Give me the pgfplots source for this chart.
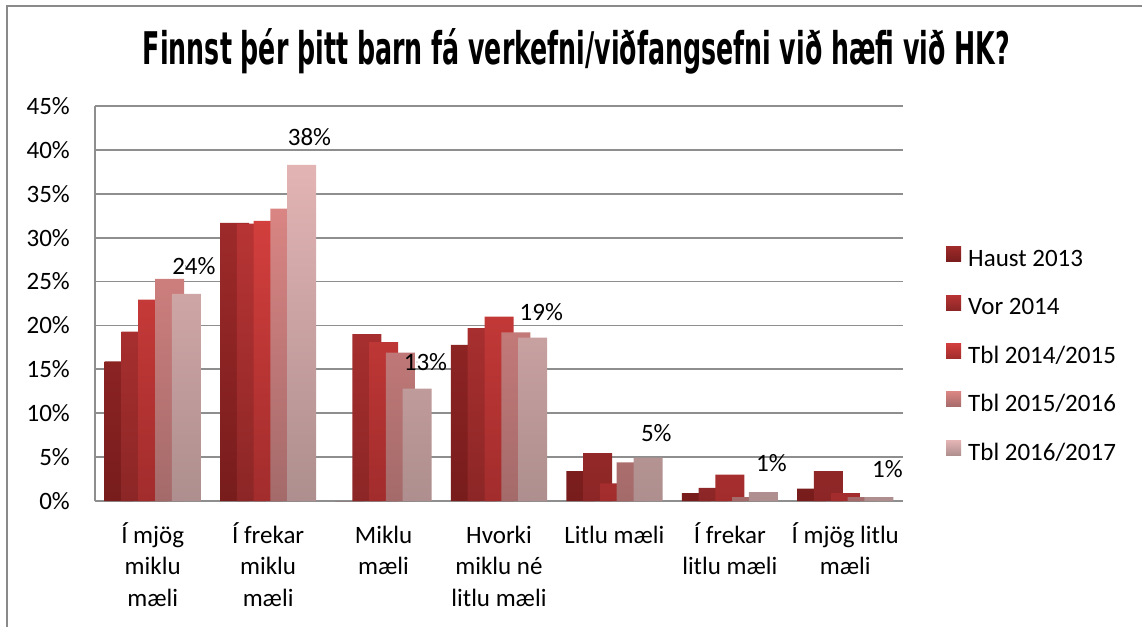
\documentclass[border=0pt]{standalone}
\usepackage{fontspec}
\usepackage{graphicx}
\usepackage{pgfplots}
\pgfplotsset{compat=1.18}
\setmainfont{Carlito}
\newfontfamily\titlefont{DejaVu Sans Condensed}
\definecolor{gridgray}{HTML}{8E8E8E}
\definecolor{framegray}{HTML}{8A8A8A}
\definecolor{sAt}{HTML}{9E2A2A}\definecolor{sAb}{HTML}{781C1C}
\definecolor{sBt}{HTML}{B83434}\definecolor{sBb}{HTML}{8C2626}
\definecolor{sCt}{HTML}{D23F3D}\definecolor{sCb}{HTML}{A22C2C}
\definecolor{sDt}{HTML}{D98583}\definecolor{sDb}{HTML}{A46A6A}
\definecolor{sEt}{HTML}{E3B4B4}\definecolor{sEb}{HTML}{AE8E8E}
\newcommand{\chartfont}{\fontsize{25}{31.5}\selectfont}
\begin{document}
\begin{tikzpicture}[x=1pt,y=1pt]
\path[use as bounding box] (0,0) rectangle (1142,-627);
\draw[framegray, line width=1.5pt] (7,-627) -- (7,-6) -- (1142,-6);
\node[anchor=base, inner sep=0pt] at (576.5,-64) {\resizebox{867pt}{\height}{\fontsize{45}{50}\titlefont\bfseries Finnst þér þitt barn fá verkefni/viðfangsefni við hæfi við HK?}};
\begin{axis}[
  at={(95pt,-501pt)}, anchor=south west,
  scale only axis, width=808pt, height=395pt,
  xmin=-0.5, xmax=6.5, ymin=0, ymax=45,
  ybar=-12.2pt, bar width=29pt,
  axis x line*=bottom, axis y line*=left,
  axis line style={-, draw=gridgray, line width=2pt},
  ymajorgrids, grid style={draw=gridgray, line width=1.8pt},
  major tick length=0pt,
  ytick={0,5,10,15,20,25,30,35,40,45},
  yticklabels={0\%,5\%,10\%,15\%,20\%,25\%,30\%,35\%,40\%,45\%},
  xtick={0,1,2,3,4,5,6},
  xticklabels={{\strut Í mjög\\miklu\\mæli},{\strut Í frekar\\miklu\\mæli},{\strut Miklu\\mæli},{\strut Hvorki\\miklu né\\litlu mæli},{\strut Litlu mæli},{\strut Í frekar\\litlu mæli},{\strut Í mjög litlu\\mæli}},
  tick label style={font=\chartfont},
  yticklabel style={anchor=east, inner sep=0pt, xshift=-25pt},
  xticklabel style={anchor=north, inner sep=0pt, align=center, yshift=-20pt},
  legend style={at={(1.0532,0.3684)}, anchor=west, draw=none, fill=none,
    inner sep=0pt, row sep=25.25pt, font=\chartfont,
    /tikz/every odd column/.append style={column sep=5pt}},
  legend cell align=left,
  legend image code/.code={\path[#1,draw=none] (0pt,-3pt) rectangle (15pt,12pt);},
]
\addplot[draw=none, top color=sAt, bottom color=sAb] coordinates {(0,15.9) (1,31.7) (2,0) (3,17.8) (4,3.4) (5,0.9) (6,1.4)};
\addplot[draw=none, top color=sBt, bottom color=sBb] coordinates {(0,19.3) (1,31.6) (2,19.0) (3,19.7) (4,5.45) (5,1.5) (6,3.4)};
\addplot[draw=none, top color=sCt, bottom color=sCb] coordinates {(0,22.95) (1,31.9) (2,18.1) (3,21.0) (4,2.0) (5,3.0) (6,0.9)};
\addplot[draw=none, top color=sDt, bottom color=sDb] coordinates {(0,25.3) (1,33.3) (2,16.9) (3,19.2) (4,4.4) (5,0.45) (6,0.45)};
\addplot[draw=none, top color=sEt, bottom color=sEb] coordinates {(0,23.6) (1,38.3) (2,12.8) (3,18.6) (4,4.95) (5,1.0) (6,0.45)};
\legend{Haust 2013,Vor 2014,Tbl 2014/2015,Tbl 2015/2016,Tbl 2016/2017}
\addplot[forget plot, only marks, mark=*, mark size=0.1pt, mark options={draw=none,fill=none},
  point meta=explicit symbolic, nodes near coords,
  nodes near coords style={anchor=center, inner sep=0pt, font=\chartfont, text=black}]
  coordinates {(0.284,26.77) [24\%] (1.285,41.46) [38\%] (2.290,15.83) [13\%] (3.294,21.53) [19\%] (4.290,7.74) [5\%] (5.287,4.33) [1\%] (6.292,3.64) [1\%]};
\end{axis}
\end{tikzpicture}
\end{document}
